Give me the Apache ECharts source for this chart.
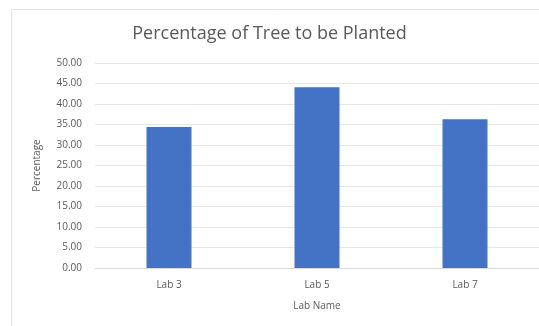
<!DOCTYPE html>
<html>
<head>
<meta charset="utf-8">
<script src="https://cdn.jsdelivr.net/npm/echarts@6/dist/echarts.min.js"></script>
<style>
  html, body { margin: 0; padding: 0; background: #fff; }
  #chart { width: 539px; height: 326px; }
</style>
</head>
<body>
<div id="chart"></div>
<script>
  var labNames = ['Lab 3', 'Lab 5', 'Lab 7'];
  var percentValues = [34.4, 44.1, 36.3];
  var yMin = 0;
  var yMax = 50;
  var yStep = 5;

  var myChart = echarts.init(document.getElementById('chart'));
  var font = 'Open Sans';

  var option = {
    animation: false,
    textStyle: { fontFamily: font },
    graphic: [{
      type: 'rect',
      shape: { x: 11.5, y: 9.5, width: 600, height: 400 },
      style: { fill: 'none', stroke: '#e3e3e3', lineWidth: 1 },
      silent: true
    }],
    title: {
      text: 'Percentage of Tree to be Planted',
      left: 'center',
      top: 20,
      textStyle: { fontFamily: font, fontSize: 18, fontWeight: 'normal', color: '#595959' }
    },
    grid: {
      left: 95,
      right: 0,
      top: 63,
      bottom: 58
    },
    xAxis: {
      type: 'category',
      data: labNames,
      name: 'Lab Name',
      nameLocation: 'middle',
      nameGap: 33,
      nameTextStyle: { fontSize: 10, color: '#595959' },
      axisLine: { lineStyle: { color: '#d9d9d9' } },
      axisTick: { show: false },
      axisLabel: { fontSize: 10, color: '#595959', margin: 12 }
    },
    yAxis: {
      type: 'value',
      min: yMin,
      max: yMax,
      interval: yStep,
      name: 'Percentage',
      nameLocation: 'middle',
      nameGap: 53,
      nameTextStyle: { fontSize: 10, color: '#595959' },
      axisLine: { show: false },
      axisTick: { show: false },
      splitLine: { lineStyle: { color: '#e6e6e6' } },
      axisLabel: {
        fontSize: 10,
        color: '#595959',
        margin: 13,
        formatter: function (v) { return v.toFixed(2); }
      }
    },
    series: [{
      name: 'Percentage',
      type: 'bar',
      data: percentValues,
      barWidth: 45,
      itemStyle: { color: '#4472c4' }
    }]
  };
  myChart.setOption(option);
</script>
</body>
</html>
